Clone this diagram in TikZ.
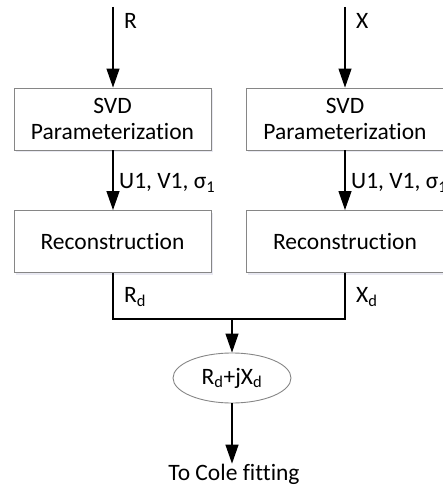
\documentclass[tikz,border=0pt]{standalone}
\usepackage{fontspec}
\setmainfont[Ligatures=NoCommon]{Carlito}
\usetikzlibrary{arrows.meta,shapes.geometric,shadows}

\tikzset{
    flow/.style={
        -{Triangle[length=19pt,width=13pt]},
        line width=1.2pt,
        draw=black
    },
    joinline/.style={
        line width=1.2pt,
        draw=black
    },
    procbox/.style={
        draw=gray!95,
        line width=0.9pt,
        fill=white,
        minimum width=197pt,
        minimum height=62pt,
        align=center,
        font=\fontsize{23.5}{28}\selectfont,
        drop shadow={shadow xshift=1.5pt, shadow yshift=-2.5pt,
                     fill=blue!25!gray!20, opacity=0.7}
    },
    sumnode/.style={
        ellipse,
        draw=gray!95,
        line width=0.9pt,
        minimum width=118pt,
        minimum height=50pt,
        inner sep=0pt,
        font=\fontsize{23.5}{28}\selectfont
    },
    tag/.style={
        anchor=west,
        inner sep=0pt,
        font=\fontsize{23.5}{28}\selectfont
    }
}

\begin{document}
\begin{tikzpicture}[x=1pt, y=-1pt]

    \useasboundingbox (0,0) rectangle (443,486);

    % --- Inputs ---
    \coordinate (inR) at (113,7);
    \coordinate (inX) at (345,7);

    % --- Left branch: R ---
    \node[procbox] (svdR) at (112.5,119) {SVD\\[-2pt]Parameterization};
    \node[procbox] (recR) at (112.5,241.5) {Reconstruction};

    % --- Right branch: X ---
    \node[procbox] (svdX) at (345,119) {SVD\\[-2pt]Parameterization};
    \node[procbox] (recX) at (345,241.5) {Reconstruction};

    % --- Merge ---
    \coordinate (joinR) at (113,319);
    \coordinate (joinX) at (345,319);
    \coordinate (joinM) at (232,319);
    \node[sumnode] (sum) at (232,378) {R\textsubscript{d}+jX\textsubscript{d}};
    \node[font=\fontsize{23.5}{28}\selectfont, inner sep=0pt] (cole) at (234,474) {To Cole fitting};

    % --- Connectors ---
    \draw[flow] (inR) -- (svdR.north -| inR);
    \draw[flow] (inX) -- (svdX.north -| inX);
    \draw[flow] (svdR.south -| inR) -- (recR.north -| inR);
    \draw[flow] (svdX.south -| inX) -- (recX.north -| inX);
    \draw[joinline] (recR.south -| inR) -- (joinR) -- (joinX) -- (recX.south -| inX);
    \draw[flow] (joinM) -- (sum.north);
    \draw[flow] (sum.south) -- (sum.south |- cole.north);

    % --- Labels ---
    \node[tag] (labR) at (124,21) {R};
    \node[tag] (labX) at (356,21) {X};
    \node[tag] (parR) at (119,183) {U1, V1, σ\textsubscript{1}};
    \node[tag] (parX) at (351,183) {U1, V1, σ\textsubscript{1}};
    \node[tag] (labRd) at (124,297) {R\textsubscript{d}};
    \node[tag] (labXd) at (356,297) {X\textsubscript{d}};

\end{tikzpicture}
\end{document}
